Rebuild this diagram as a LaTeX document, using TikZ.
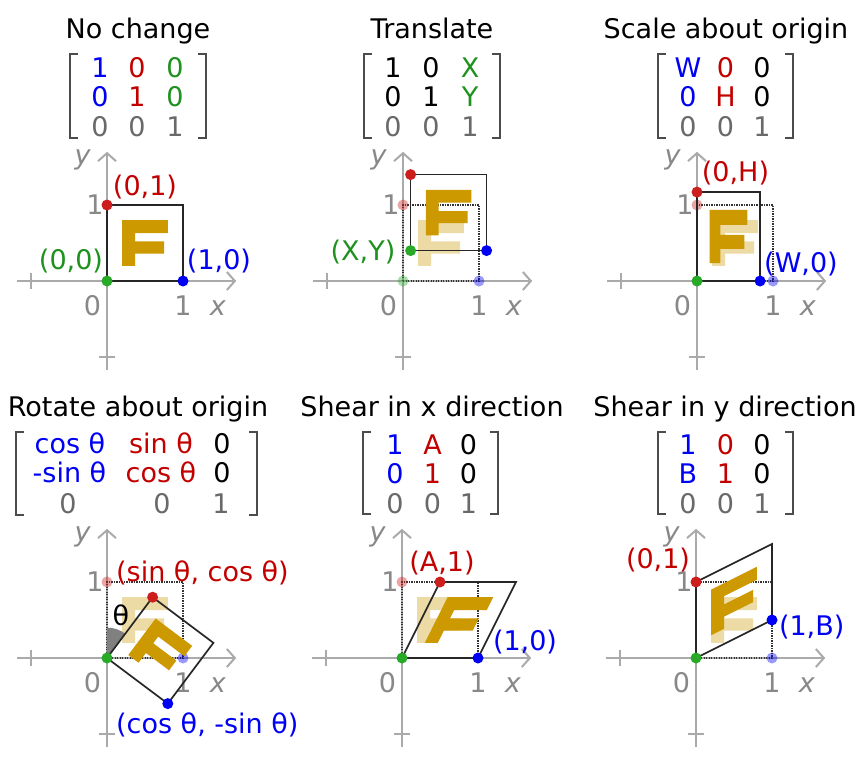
\documentclass[tikz,border=0pt]{standalone}
\usepackage{fontspec}
\setmainfont{DejaVu Sans}
\usetikzlibrary{arrows.meta}
\definecolor{cblue}{RGB}{0,0,245}
\definecolor{cred}{RGB}{195,0,0}
\definecolor{cgreen}{RGB}{30,145,30}
\definecolor{cdotgreen}{RGB}{40,170,40}
\definecolor{cdotred}{RGB}{205,30,30}
\definecolor{cgold}{RGB}{204,153,0}
\definecolor{caxis}{RGB}{170,170,170}
\definecolor{clab}{RGB}{136,136,136}
\definecolor{crow}{RGB}{105,105,105}
\tikzset{
  txt/.style={font=\fontsize{27}{32}\selectfont, inner sep=0pt, anchor=base},
  lab/.style={txt, text=clab},
  axisline/.style={draw=caxis, line width=2pt},
  axisarrow/.style={axisline, -{Straight Barb[length=8pt,width=18pt]}},
  unitsq/.style={draw=black!80, line width=2.2pt, dash pattern=on 1.4pt off 1.1pt},
  tsq/.style={draw=black!85, line width=1.7pt},
  Fsolid/.style={fill=cgold},
  Ffade/.style={fill=cgold, fill opacity=0.35},
  bracket/.style={draw=black!70, line width=2pt},
  dot/.style={circle, inner sep=0pt, minimum size=11pt},
  fdot/.style={dot, fill opacity=0.4},
}
\newcommand\FPath{(0.2,0.2) -- (0.2,0.8) -- (0.8,0.8) -- (0.8,0.63) -- (0.37,0.63) -- (0.37,0.52) -- (0.75,0.52) -- (0.75,0.36) -- (0.37,0.36) -- (0.37,0.2) -- cycle}
\newcommand\SqPath{(0,0) -- (1,0) -- (1,1) -- (0,1) -- cycle}
\newcommand\drawaxes[1]{%
  \coordinate (#1xs) at (-1.18,0); \coordinate (#1xe) at (1.7,0);
  \coordinate (#1ys) at (0,-1.17); \coordinate (#1ye) at (0,1.7);
  \draw[axisarrow] (#1xs) -- (#1xe);
  \draw[axisarrow] (#1ys) -- (#1ye);
  \draw[axisline] (-1,-0.1) -- (-1,0.1);
  \draw[axisline] (-0.1,-1) -- (0.1,-1);
  \node[lab] (#1zero) at (-0.19,-0.46) {0};
  \node[lab] (#1xone) at (1,-0.46) {1};
  \node[lab] (#1xlab) at (1.46,-0.46) {\itshape x};
  \node[lab] (#1ylab) at (-0.32,1.53) {\itshape y};
  \node[lab] (#1yone) at (-0.16,0.87) {1};
}
\newcommand\brk[4]{%
  \draw[bracket] (#1+8,#3) -- (#1,#3) -- (#1,#4) -- (#1+8,#4);
  \draw[bracket] (#2-8,#3) -- (#2,#3) -- (#2,#4) -- (#2-8,#4);
}
\begin{document}
\begin{tikzpicture}[x=1pt,y=-1pt]
\useasboundingbox (0,0) rectangle (862,764);
\fill[white] (0,0) rectangle (862,764);

% ---------- titles ----------
\node[txt] (t1) at (138,38) {No change};
\node[txt] (t2) at (432,38) {Translate};
\node[txt] (t3) at (726,38) {Scale about origin};
\node[txt] (t4) at (138,416.5) {Rotate about origin};
\node[txt] (t5) at (432,416.5) {Shear in x direction};
\node[txt] (t6) at (725,416.5) {Shear in y direction};

% ---------- matrices ----------
\brk{70}{206}{54}{138}
\node[txt,text=cblue] (m1a) at (100,77) {1};
\node[txt,text=cred] (m1b) at (137,77) {0};
\node[txt,text=cgreen] (m1c) at (175,77) {0};
\node[txt,text=cblue] (m1d) at (100,106) {0};
\node[txt,text=cred] (m1e) at (137,106) {1};
\node[txt,text=cgreen] (m1f) at (175,106) {0};
\node[txt,text=crow] (m1g) at (100,136) {0};
\node[txt,text=crow] (m1h) at (137,136) {0};
\node[txt,text=crow] (m1i) at (175,136) {1};

\brk{364}{500}{54}{138}
\node[txt] (m2a) at (393,77) {1};
\node[txt] (m2b) at (431,77) {0};
\node[txt,text=cgreen] (m2c) at (470,77) {X};
\node[txt] (m2d) at (393,106) {0};
\node[txt] (m2e) at (431,106) {1};
\node[txt,text=cgreen] (m2f) at (470,106) {Y};
\node[txt,text=crow] (m2g) at (393,136) {0};
\node[txt,text=crow] (m2h) at (431,136) {0};
\node[txt,text=crow] (m2i) at (470,136) {1};

\brk{658}{793}{54}{138}
\node[txt,text=cblue] (m3a) at (688,77) {W};
\node[txt,text=cred] (m3b) at (725.5,77) {0};
\node[txt] (m3c) at (762,77) {0};
\node[txt,text=cblue] (m3d) at (688,106) {0};
\node[txt,text=cred] (m3e) at (725.5,106) {H};
\node[txt] (m3f) at (762,106) {0};
\node[txt,text=crow] (m3g) at (688,136) {0};
\node[txt,text=crow] (m3h) at (725.5,136) {0};
\node[txt,text=crow] (m3i) at (762,136) {1};

\brk{16}{257}{432}{515}
\node[txt,text=cblue] (m4a) at (70,453) {cos θ};
\node[txt,text=cred] (m4b) at (161,453) {sin θ};
\node[txt] (m4c) at (222,453) {0};
\node[txt,text=cblue] (m4d) at (69.5,482.5) {-sin θ};
\node[txt,text=cred] (m4e) at (161,482.5) {cos θ};
\node[txt] (m4f) at (222,482.5) {0};
\node[txt,text=crow] (m4g) at (68,513) {0};
\node[txt,text=crow] (m4h) at (162,513) {0};
\node[txt,text=crow] (m4i) at (221,513) {1};

\brk{363}{498}{432}{514}
\node[txt,text=cblue] (m5a) at (395,454) {1};
\node[txt,text=cred] (m5b) at (432.5,454) {A};
\node[txt] (m5c) at (468.5,454) {0};
\node[txt,text=cblue] (m5d) at (395,483) {0};
\node[txt,text=cred] (m5e) at (432.5,483) {1};
\node[txt] (m5f) at (468.5,483) {0};
\node[txt,text=crow] (m5g) at (395,513) {0};
\node[txt,text=crow] (m5h) at (432.5,513) {0};
\node[txt,text=crow] (m5i) at (468.5,513) {1};

\brk{658}{793}{432}{514}
\node[txt,text=cblue] (m6a) at (688,454) {1};
\node[txt,text=cred] (m6b) at (725.5,454) {0};
\node[txt] (m6c) at (762,454) {0};
\node[txt,text=cblue] (m6d) at (688,483) {B};
\node[txt,text=cred] (m6e) at (725.5,483) {1};
\node[txt] (m6f) at (762,483) {0};
\node[txt,text=crow] (m6g) at (688,513) {0};
\node[txt,text=crow] (m6h) at (725.5,513) {0};
\node[txt,text=crow] (m6i) at (762,513) {1};

% ---------- panel 1: no change ----------
\begin{scope}[shift={(107,281)}, x=76pt, y=76pt]
  \drawaxes{a}
  \fill[Fsolid] \FPath;
  \draw[unitsq] \SqPath;
  \draw[tsq] \SqPath;
  \node[dot,fill=cdotgreen] (a00) at (0,0) {};
  \node[dot,fill=cblue] (a10) at (1,0) {};
  \node[dot,fill=cdotred] (a01) at (0,1) {};
\end{scope}
\node[txt,text=cred] (l1a) at (145,195) {(0,1)};
\node[txt,text=cgreen] (l1b) at (71,269) {(0,0)};
\node[txt,text=cblue] (l1c) at (219,269) {(1,0)};

% ---------- panel 2: translate ----------
\begin{scope}[shift={(403,281)}, x=76pt, y=76pt]
  \drawaxes{b}
  \fill[Ffade] \FPath;
  \draw[unitsq] \SqPath;
  \node[fdot,fill=cdotgreen] (bf00) at (0,0) {};
  \node[fdot,fill=cblue] (bf10) at (1,0) {};
  \node[fdot,fill=cdotred] (bf01) at (0,1) {};
  \begin{scope}[shift={(0.1,0.4)}]
    \fill[Fsolid] \FPath;
    \draw[tsq] \SqPath;
  \end{scope}
  \node[dot,fill=cdotgreen] (b00) at (0.1,0.4) {};
  \node[dot,fill=cblue] (b10) at (1.1,0.4) {};
  \node[dot,fill=cdotred] (b01) at (0.1,1.4) {};
\end{scope}
\node[txt,text=cgreen] (l2a) at (363,260) {(X,Y)};

% ---------- panel 3: scale ----------
\begin{scope}[shift={(697,281)}, x=76pt, y=76pt]
  \drawaxes{c}
  \fill[Ffade] \FPath;
  \draw[unitsq] \SqPath;
  \node[fdot,fill=cblue] (cf10) at (1,0) {};
  \node[fdot,fill=cdotred] (cf01) at (0,1) {};
  \begin{scope}[cm={0.83,0,0,1.17,(0,0)}]
    \fill[Fsolid] \FPath;
    \draw[tsq] \SqPath;
  \end{scope}
  \node[dot,fill=cdotgreen] (c00) at (0,0) {};
  \node[dot,fill=cblue] (c10) at (0.83,0) {};
  \node[dot,fill=cdotred] (c01) at (0,1.17) {};
\end{scope}
\node[txt,text=cred] (l3a) at (735.5,181) {(0,H)};
\node[txt,text=cblue] (l3b) at (801,272) {(W,0)};

% ---------- panel 4: rotate ----------
\begin{scope}[shift={(107,658)}, x=76pt, y=76pt]
  \drawaxes{d}
  \fill[Ffade] \FPath;
  \draw[unitsq] \SqPath;
  \fill[black!50] (0,0) -- (0,0.4) arc[start angle=90, end angle=53.13, radius=0.4] -- cycle;
  \node[fdot,fill=cblue] (df10) at (1,0) {};
  \node[fdot,fill=cdotred] (df01) at (0,1) {};
  \begin{scope}[cm={0.8,-0.6,0.6,0.8,(0,0)}]
    \fill[Fsolid] \FPath;
    \draw[tsq] \SqPath;
  \end{scope}
  \node[dot,fill=cdotgreen] (d00) at (0,0) {};
  \node[dot,fill=cblue] (d10) at (0.8,-0.6) {};
  \node[dot,fill=cdotred] (d01) at (0.6,0.8) {};
\end{scope}
\node[txt,text=cred,anchor=base west] (l4a) at (116,581) {(sin θ, cos θ)};
\node[txt,text=cblue,anchor=base west] (l4b) at (116,733) {(cos θ, -sin θ)};
\node[txt] (l4c) at (121,625) {θ};

% ---------- panel 5: shear x ----------
\begin{scope}[shift={(402,658)}, x=76pt, y=76pt]
  \drawaxes{e}
  \fill[Ffade] \FPath;
  \draw[unitsq] \SqPath;
  \node[fdot,fill=cdotred] (ef01) at (0,1) {};
  \begin{scope}[cm={1,0,0.5,1,(0,0)}]
    \fill[Fsolid] \FPath;
    \draw[tsq] \SqPath;
  \end{scope}
  \node[dot,fill=cdotgreen] (e00) at (0,0) {};
  \node[dot,fill=cblue] (e10) at (1,0) {};
  \node[dot,fill=cdotred] (e01) at (0.5,1) {};
\end{scope}
\node[txt,text=cred] (l5a) at (442,571) {(A,1)};
\node[txt,text=cblue] (l5b) at (525,650) {(1,0)};

% ---------- panel 6: shear y ----------
\begin{scope}[shift={(696,658)}, x=76pt, y=76pt]
  \drawaxes{f}
  \fill[Ffade] \FPath;
  \draw[unitsq] \SqPath;
  \node[fdot,fill=cblue] (ff10) at (1,0) {};
  \begin{scope}[cm={1,0.5,0,1,(0,0)}]
    \fill[Fsolid] \FPath;
    \draw[tsq] \SqPath;
  \end{scope}
  \node[dot,fill=cdotgreen] (f00) at (0,0) {};
  \node[dot,fill=cblue] (f10) at (1,0.5) {};
  \node[dot,fill=cdotred] (f01) at (0,1) {};
\end{scope}
\node[txt,text=cred] (l6a) at (658,568) {(0,1)};
\node[txt,text=cblue] (l6b) at (811.7,635) {(1,B)};
\end{tikzpicture}
\end{document}
